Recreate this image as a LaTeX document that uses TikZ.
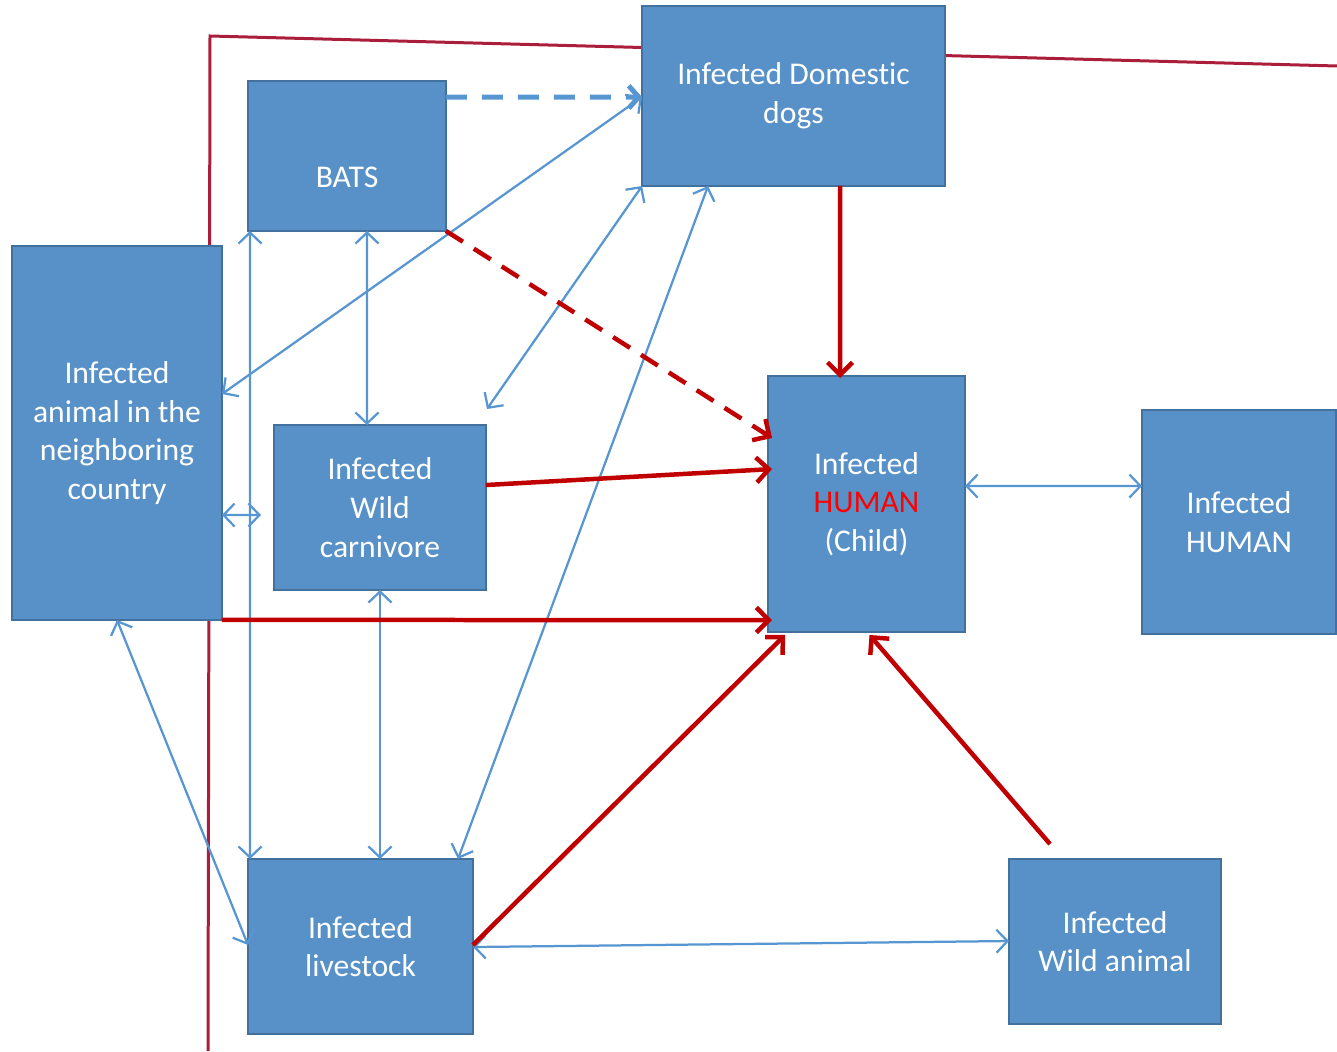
\documentclass[tikz,border=0pt]{standalone}
\usepackage{fontspec}
\setmainfont{Carlito}[Ligatures=NoCommon]
\usetikzlibrary{arrows.meta,calc}
\definecolor{boxfill}{RGB}{88,145,199}
\definecolor{boxline}{RGB}{65,113,156}
\definecolor{blueln}{RGB}{88,150,210}
\definecolor{redln}{RGB}{192,0,0}
\definecolor{bound}{RGB}{170,30,60}
\definecolor{hred}{RGB}{255,0,0}
\tikzset{
  box/.style={draw=boxline, fill=boxfill, line width=0.04cm, text=white,
    font=\fontsize{18}{22}\selectfont, align=center, inner sep=0pt, outer sep=0pt,
    execute at begin node={\rule{0pt}{16.5pt}}},
  blu/.style={draw=blueln, line width=0.045cm,
    {Straight Barb[length=0.22cm,width=0.46cm]}-{Straight Barb[length=0.22cm,width=0.46cm]}},
  bludash/.style={draw=blueln, line width=0.1cm, dash pattern=on 0.42cm off 0.3cm,
    -{Straight Barb[length=0.2cm,width=0.45cm]}},
  rd/.style={draw=redln, line width=0.09cm, -{Straight Barb[length=0.25cm,width=0.5cm]}},
  rddash/.style={draw=redln, line width=0.09cm, dash pattern=on 0.4cm off 0.26cm,
    -{Straight Barb[length=0.25cm,width=0.5cm]}},
}
\begin{document}
\begin{tikzpicture}[x=0.02cm,y=-0.02cm]
\useasboundingbox (0,0) rectangle (1337,1051);
% boundary line
\draw[bound, line width=0.06cm] (208,1051) -- (210,36) -- (1337,66);
% boxes
\node[box, minimum width=6.06cm, minimum height=3.6cm] (dogs) at (793.5,96) {Infected Domestic\\dogs};
\node[box, minimum width=3.96cm, minimum height=3.0cm] (bats) at (347,156) {};
\node[text=white, font=\fontsize{18}{22}\selectfont] (batstxt) at (347,177) {BATS};
\node[box, minimum width=4.2cm, minimum height=7.48cm] (nb) at (117,433) {Infected\\animal in the\\neighboring\\country};
\node[box, minimum width=4.24cm, minimum height=3.3cm] (carn) at (380,507.5) {Infected\\Wild\\carnivore};
\node[box, minimum width=3.94cm, minimum height=5.12cm] (child) at (866.5,504) {Infected\\\textcolor{hred}{HUMAN}\\(Child)};
\node[box, minimum width=3.88cm, minimum height=4.48cm] (human) at (1239,522) {Infected\\HUMAN};
\node[box, minimum width=4.5cm, minimum height=3.5cm] (ls) at (360.5,946.5) {Infected\\livestock};
\node[box, minimum width=4.24cm, minimum height=3.3cm] (wa) at (1115,941.5) {Infected\\Wild animal};
% blue connectors
\draw[bludash] ($(bats.north east)+(0,16)$) -- ($(dogs.north west)+(0,91)$);
\draw[blu] ($(nb.north east)+(0,148)$) -- ($(dogs.north west)+(0,91)$);
\draw[blu] ($(bats.south west)+(2,0)$) -- ($(ls.north west)+(2,0)$);
\draw[blu] ($(bats.south west)+(119,0)$) -- ($(carn.north)+(-13,0)$);
\draw[blu] ($(carn.north east)+(1,-16)$) -- (dogs.south west);
\draw[blu] ($(ls.north east)+(-15,0)$) -- ($(dogs.south west)+(66,0)$);
\draw[blu] ($(nb.north east)+(0,269)$) -- ($(carn.west)+(-13,7.5)$);
\draw[blu] (carn.south) -- (carn.south |- ls.north);
\draw[blu] (nb.south) -- ($(ls.north west)+(0,86)$);
\draw[blu] ($(child.north east)+(0,110)$) -- ($(human.north west)+(0,76)$);
\draw[blu] ($(ls.north east)+(0,88)$) -- ($(wa.north west)+(0,82)$);
% red connectors
\draw[rd] ($(dogs.south west)+(198,0)$) -- ($(child.north west)+(72,2)$);
\draw[rddash] (bats.south east) -- ($(child.north west)+(4,62)$);
\draw[rd] ($(carn.north east)+(0,60)$) -- ($(child.north west)+(4,93)$);
\draw[rd] (nb.south east) -- ($(child.north west)+(4,244)$);
\draw[rd] ($(ls.north east)+(0,86)$) -- ($(child.south west)+(17,3)$);
\draw[rd] ($(wa.north west)+(41,-15)$) -- ($(child.south)+(3,3)$);
\end{tikzpicture}
\end{document}
